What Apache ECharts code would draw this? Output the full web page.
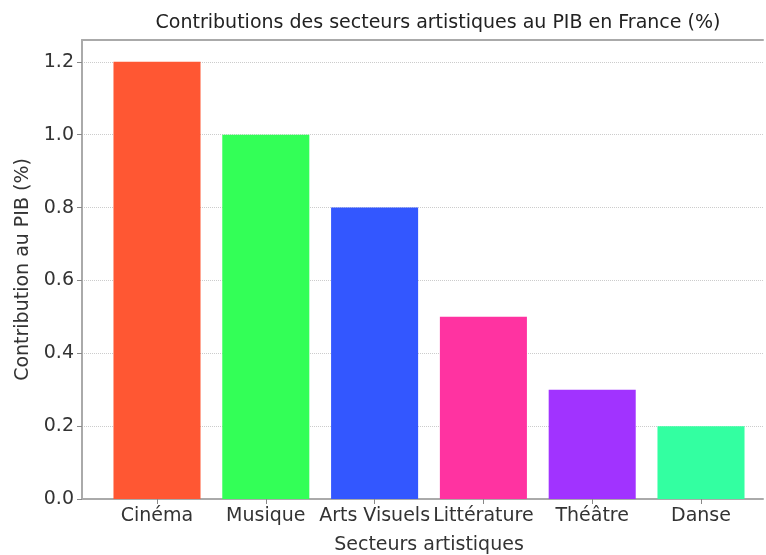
<!DOCTYPE html>
<html>
<head>
<meta charset="utf-8">
<script src="https://cdn.jsdelivr.net/npm/echarts@6/dist/echarts.min.js"></script>
<style>html,body{margin:0;padding:0;background:#fff}#c{width:766px;height:555px}</style>
</head>
<body>
<div id="c"></div>
<script>
const categories = ['Cinéma', 'Musique', 'Arts Visuels', 'Littérature', 'Théâtre', 'Danse'];
const values = [1.2, 1.0, 0.8, 0.5, 0.3, 0.2];
const colors = ['#FF5733', '#33FF57', '#3357FF', '#FF33A1', '#A133FF', '#33FFA1'];
const yTicks = [0, 0.2, 0.4, 0.6, 0.8, 1.0, 1.2];

const FONT = 'DejaVu Sans';
const SPINE = {show: true, lineStyle: {color: '#aaa', width: 2}};
const chart = echarts.init(document.getElementById('c'), null, {renderer: 'canvas'});
chart.setOption({
  animation: false,
  backgroundColor: '#fff',
  title: {
    text: 'Contributions des secteurs artistiques au PIB en France (%)',
    left: 433, textAlign: 'center', top: 9,
    textStyle: {fontFamily: FONT, fontSize: 19, fontWeight: 'normal', color: '#222'}
  },
  grid: [
    {left: 82, right: 3, top: 40, bottom: 56, containLabel: false, outerBoundsMode: 'none'},
    {left: 102.6, right: 10.6, top: 40, bottom: 56, containLabel: false, outerBoundsMode: 'none'}
  ],
  xAxis: [
    {type: 'value', gridIndex: 0, min: 0, max: 1, position: 'bottom',
     axisLine: SPINE, axisTick: {show: false}, axisLabel: {show: false}, splitLine: {show: false}},
    {type: 'category', gridIndex: 1, data: categories,
     axisLine: {show: false},
     axisTick: {show: true, alignWithLabel: true, length: 5, lineStyle: {color: '#888', width: 1}},
     axisLabel: {fontFamily: FONT, fontSize: 19, color: '#333', margin: 8, interval: 0},
     name: 'Secteurs artistiques', nameLocation: 'middle', nameGap: 37,
     nameTextStyle: {fontFamily: FONT, fontSize: 19, color: '#333'}},
    {type: 'value', gridIndex: 0, min: 0, max: 1, position: 'top',
     axisLine: SPINE, axisTick: {show: false}, axisLabel: {show: false}, splitLine: {show: false}}
  ],
  yAxis: [
    {type: 'value', gridIndex: 0, min: 0, max: 1.26, interval: 0.2,
     axisLine: SPINE,
     axisTick: {show: true, length: 5, lineStyle: {color: '#888', width: 1}},
     axisLabel: {fontFamily: FONT, fontSize: 19, color: '#333', margin: 8, showMaxLabel: false,
       formatter: v => yTicks.some(t => Math.abs(t - v) < 1e-9) ? v.toFixed(1) : ''},
     splitLine: {show: true, lineStyle: {color: '#ccc', type: 'dotted', width: 1}},
     name: 'Contribution au PIB (%)', nameLocation: 'middle', nameGap: 46,
     nameTextStyle: {fontFamily: FONT, fontSize: 19, color: '#333'}},
    {type: 'value', gridIndex: 1, min: 0, max: 1.26, show: false}
  ],
  series: [{
    type: 'bar', xAxisIndex: 1, yAxisIndex: 1, barWidth: '80%',
    data: values.map((v, i) => ({value: v, itemStyle: {color: colors[i]}}))
  }]
});
</script>
</body>
</html>
